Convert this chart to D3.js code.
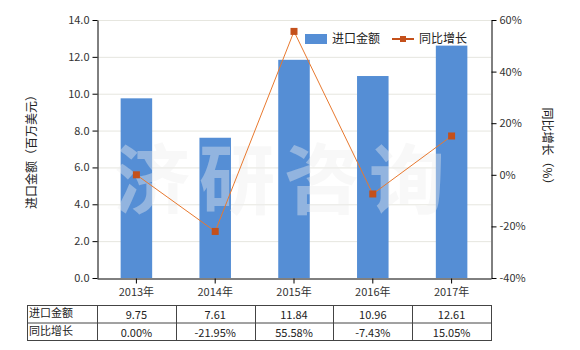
<!DOCTYPE html>
<html>
<head>
<meta charset="utf-8">
<script src="https://cdn.jsdelivr.net/npm/d3@7"></script>
<style>
  body { margin: 0; background: #fff; }
  text { font-family: "Noto Sans CJK SC", "Noto Sans", sans-serif; }
</style>
</head>
<body>
<div id="chart"></div>
<script>
const years = ["2013年", "2014年", "2015年", "2016年", "2017年"]
const amounts = [9.75, 7.61, 11.84, 10.96, 12.61]
const growth = [0.00, -21.95, 55.58, -7.43, 15.05]
const amountLabels = ["9.75", "7.61", "11.84", "10.96", "12.61"]
const growthLabels = ["0.00%", "-21.95%", "55.58%", "-7.43%", "15.05%"]
const leftTicks = [0, 2, 4, 6, 8, 10, 12, 14]
const rightTicks = [-40, -20, 0, 20, 40, 60]

const width = 580
const height = 350
const m = { left: 97, right: 89, top: 20, bottom: 72 }
const x0 = m.left, x1 = width - m.right
const y0 = height - m.bottom, y1 = m.top

const svg = d3.select("#chart").append("svg")
  .attr("width", width)
  .attr("height", height)

const x = d3.scaleBand().domain(years).range([x0, x1]).paddingInner(0.6).paddingOuter(0.3)
const yL = d3.scaleLinear().domain([0, 14]).range([y0, y1])
const yR = d3.scaleLinear().domain([-40, 60]).range([y0, y1])

// grid
svg.append("g")
  .selectAll("line")
  .data(leftTicks.slice(1))
  .enter().append("line")
  .attr("x1", x0).attr("x2", x1)
  .attr("y1", d => yL(d) + 0.5).attr("y2", d => yL(d) + 0.5)
  .attr("stroke", "#e6e6df")

// bars
svg.append("g")
  .selectAll("rect")
  .data(amounts)
  .enter().append("rect")
  .attr("x", (d, i) => x(years[i]))
  .attr("width", x.bandwidth())
  .attr("y", d => yL(d))
  .attr("height", d => y0 - yL(d))
  .attr("fill", "#558ed5")

// watermark
svg.append("text")
  .attr("x", 284).attr("y", 208)
  .attr("text-anchor", "middle")
  .style("font-size", "76px")
  .style("font-weight", "bold")
  .style("letter-spacing", "9px")
  .attr("fill", "#eeeeee")
  .attr("opacity", 0.4)
  .text("济研咨询")

// axes
const axL = svg.append("g")
  .attr("transform", `translate(${x0 + 0.5},0)`)
  .call(d3.axisLeft(yL).tickValues(leftTicks).tickFormat(d3.format(".1f")).tickSize(5).tickSizeOuter(0))
const axR = svg.append("g")
  .attr("transform", `translate(${x1 + 0.5},0)`)
  .call(d3.axisRight(yR).tickValues(rightTicks).tickFormat(d => d + "%").tickSize(5).tickSizeOuter(0))
const axB = svg.append("g")
  .attr("transform", `translate(0,${y0 + 0.5})`)
  .call(d3.axisBottom(x).tickSize(5).tickSizeOuter(0))

;[axL, axR, axB].forEach(a => {
  a.selectAll("path, line").attr("stroke", "#000")
  a.selectAll("text").attr("fill", "#333").style("font-size", "11px")
    .style("font-family", "'Noto Sans CJK SC', sans-serif")
})
axB.selectAll("text").attr("dy", "0.9em")

// line series
const line = d3.line()
  .x((d, i) => x(years[i]) + x.bandwidth() / 2)
  .y(d => yR(d))
svg.append("path")
  .datum(growth)
  .attr("d", line)
  .attr("fill", "none")
  .attr("stroke", "#e8792f")
  .attr("stroke-width", 1)

svg.append("g")
  .selectAll("rect")
  .data(growth)
  .enter().append("rect")
  .attr("x", (d, i) => x(years[i]) + x.bandwidth() / 2 - 3.5)
  .attr("y", d => yR(d) - 3.5)
  .attr("width", 7).attr("height", 7)
  .attr("fill", "#c4501b")

// axis titles
svg.append("text")
  .attr("transform", `translate(36,${(y0 + y1) / 2}) rotate(-90)`)
  .attr("text-anchor", "middle")
  .style("font-size", "12px")
  .attr("fill", "#222")
  .text("进口金额（百万美元）")
svg.append("text")
  .attr("transform", `translate(543,${(y0 + y1) / 2}) rotate(90)`)
  .attr("text-anchor", "middle")
  .style("font-size", "12px")
  .attr("fill", "#222")
  .text("同比增长（%）")

// legend
const lg = svg.append("g")
lg.append("rect").attr("x", 305).attr("y", 34).attr("width", 22).attr("height", 10).attr("fill", "#558ed5")
lg.append("text").attr("x", 332).attr("y", 43).style("font-size", "12px").attr("fill", "#222").text("进口金额")
lg.append("line").attr("x1", 392).attr("x2", 414).attr("y1", 39).attr("y2", 39).attr("stroke", "#c4501b").attr("stroke-width", 2)
lg.append("rect").attr("x", 400).attr("y", 36).attr("width", 6).attr("height", 6).attr("fill", "#c4501b")
lg.append("text").attr("x", 419).attr("y", 43).style("font-size", "12px").attr("fill", "#222").text("同比增长")

// data table
const tTop = 305, rowH = 17.5, tLeft = 27
const step = x.step()
const colEdges = [tLeft].concat(d3.range(years.length + 1).map(i => x0 + i * step))
const tg = svg.append("g").attr("stroke", "#444").attr("fill", "none")
tg.append("rect").attr("x", tLeft + 0.5).attr("y", tTop + 0.5).attr("width", x1 - tLeft).attr("height", rowH * 2)
tg.append("line").attr("x1", tLeft).attr("x2", x1).attr("y1", tTop + rowH + 0.5).attr("y2", tTop + rowH + 0.5)
tg.selectAll(".v").data(colEdges.slice(1, -1)).enter().append("line")
  .attr("x1", d => Math.round(d) + 0.5).attr("x2", d => Math.round(d) + 0.5)
  .attr("y1", tTop).attr("y2", tTop + rowH * 2)

const rows = [["进口金额", amountLabels], ["同比增长", growthLabels]]
rows.forEach((r, ri) => {
  const yy = tTop + rowH * ri + 13
  svg.append("text").attr("x", tLeft + 2).attr("y", yy - 1)
    .style("font-size", "11px").attr("fill", "#222").text(r[0])
  svg.append("g").selectAll("text").data(r[1]).enter().append("text")
    .attr("x", (d, i) => x(years[i]) + x.bandwidth() / 2)
    .attr("y", yy + 1)
    .attr("text-anchor", "middle")
    .style("font-size", "11px").attr("fill", "#222")
    .text(d => d)
})
</script>
</body>
</html>
